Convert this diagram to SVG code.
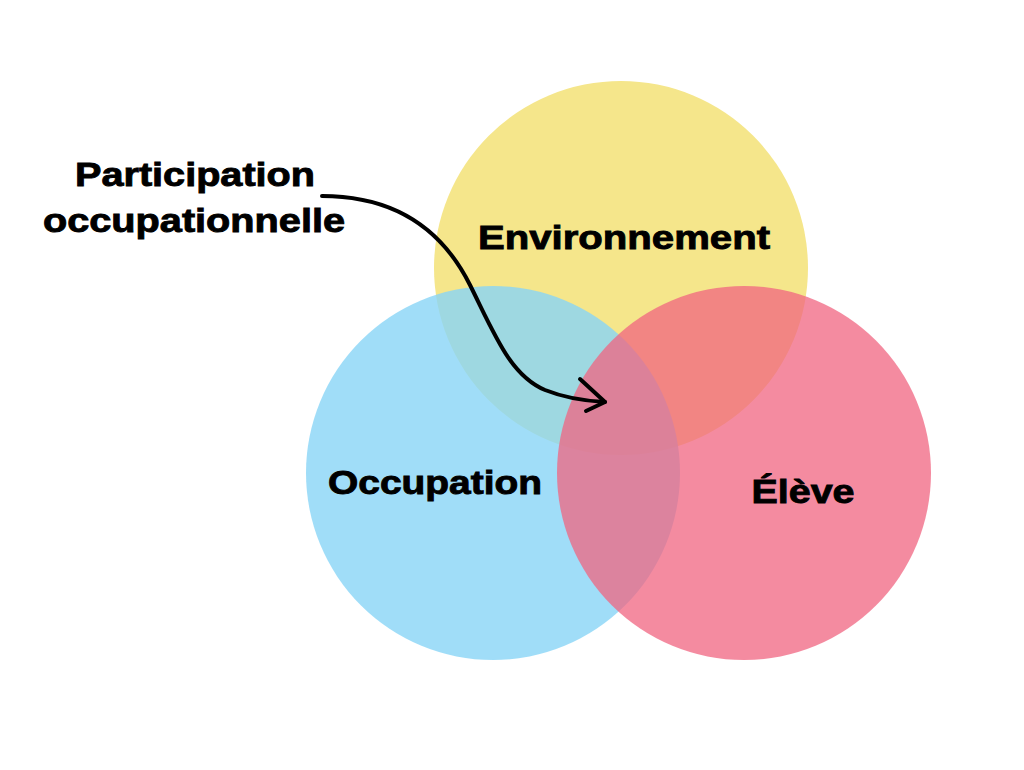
<svg xmlns="http://www.w3.org/2000/svg" width="1024" height="770" viewBox="0 0 1024 770">
<style>
.lbl{font-family:"Liberation Sans",Arial,sans-serif;font-weight:bold;fill:#000;stroke:#000;stroke-width:0.9;text-anchor:middle;font-size:34px}
.arr{fill:none;stroke:#000;stroke-width:4;stroke-linecap:round;stroke-linejoin:round}
</style>
<rect width="1024" height="770" fill="#fff"/>
<g id="environnement">
<circle cx="621" cy="268" r="187" fill="#F5E68B"/>
</g>
<g id="occupation">
<circle cx="493" cy="473" r="187" fill="#88D4F6" fill-opacity="0.8"/>
</g>
<g id="eleve">
<circle cx="744" cy="473" r="187" fill="#F06480" fill-opacity="0.75"/>
</g>
<g id="labels">
<text class="lbl" x="624" y="249" textLength="292" lengthAdjust="spacingAndGlyphs">Environnement</text>
<text class="lbl" x="435" y="494" textLength="214" lengthAdjust="spacingAndGlyphs">Occupation</text>
<text class="lbl" x="803" y="503" textLength="103" lengthAdjust="spacingAndGlyphs">Élève</text>
</g>
<g id="participation">
<text class="lbl" x="195" y="186" textLength="240" lengthAdjust="spacingAndGlyphs">Participation</text>
<text class="lbl" x="194" y="232" textLength="302" lengthAdjust="spacingAndGlyphs">occupationnelle</text>
</g>
<g id="connectors">
<path class="arr" d="M322,196 C390,196 440,225 470,285 C495,335 510,375 545,390 C565,398 585,401 605,402"/>
<path class="arr" d="M580,379 L605,402 L586,411"/>
</g>
</svg>
